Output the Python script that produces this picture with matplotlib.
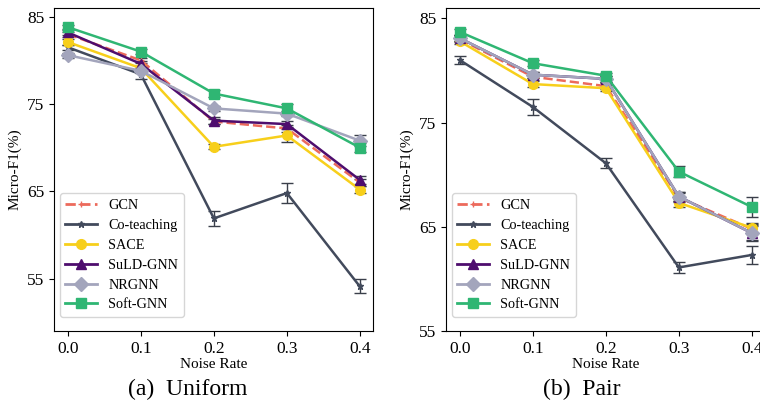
import numpy as np
import matplotlib.pyplot as plt
from matplotlib.lines import Line2D

plt.rcParams['font.family'] = ['Liberation Serif', 'DejaVu Serif']

noise = [0.0, 0.1, 0.2, 0.3, 0.4]
methods = ["GCN", "Co-teaching", "SACE", "SuLD-GNN", "NRGNN", "Soft-GNN"]

# Uniform noise
uni_gcn = [83.0, 80.0, 73.0, 72.2, 66.0]
uni_cot = [81.5, 78.4, 61.9, 64.8, 54.1]
uni_sace = [82.1, 79.1, 70.1, 71.4, 65.2]
uni_suld = [83.2, 79.6, 73.1, 72.7, 66.3]
uni_nrgnn = [80.6, 78.8, 74.5, 73.9, 70.8]
uni_soft = [83.8, 81.0, 76.2, 74.5, 70.0]

uni_gcn_err = [0.3, 0.3, 0.3, 0.4, 0.4]
uni_cot_err = [0.3, 0.5, 0.9, 1.1, 0.8]
uni_sace_err = [0.3, 0.3, 0.3, 0.7, 0.4]
uni_suld_err = [0.3, 0.3, 0.4, 0.3, 0.5]
uni_nrgnn_err = [0.3, 0.3, 0.3, 0.3, 0.6]
uni_soft_err = [0.2, 0.3, 0.4, 0.5, 0.5]

# Pair noise
pair_gcn = [83.0, 79.4, 78.5, 67.8, 64.8]
pair_cot = [81.0, 76.5, 71.1, 61.1, 62.3]
pair_sace = [82.8, 78.7, 78.3, 67.3, 64.9]
pair_suld = [83.1, 79.6, 79.2, 67.9, 64.4]
pair_nrgnn = [83.1, 79.6, 79.2, 67.9, 64.4]
pair_soft = [83.7, 80.7, 79.5, 70.3, 66.9]

pair_gcn_err = [0.3, 0.3, 0.3, 0.4, 0.5]
pair_cot_err = [0.4, 0.8, 0.5, 0.5, 0.9]
pair_sace_err = [0.3, 0.3, 0.3, 0.4, 0.5]
pair_suld_err = [0.3, 0.3, 0.3, 0.4, 0.7]
pair_nrgnn_err = [0.3, 0.3, 0.3, 0.4, 0.8]
pair_soft_err = [0.3, 0.3, 0.3, 0.5, 1.0]

colors = ["#ec6a5c", "#424a5c", "#f7cf1b", "#4e0d6e", "#a3a5bc", "#2fb673"]
markers = ["+", "*", "o", "^", "D", "s"]
msizes = [5, 5, 7, 7, 7, 7]
styles = ["--", "-", "-", "-", "-", "-"]

fig = plt.figure(figsize=(7.6, 4.03), dpi=100)
ax1 = fig.add_axes([54 / 760, 72 / 403, 319 / 760, 323 / 403])
ax2 = fig.add_axes([446 / 760, 72 / 403, 319 / 760, 323 / 403])

uni = [uni_gcn, uni_cot, uni_sace, uni_suld, uni_nrgnn, uni_soft]
uni_err = [uni_gcn_err, uni_cot_err, uni_sace_err, uni_suld_err, uni_nrgnn_err, uni_soft_err]
pair = [pair_gcn, pair_cot, pair_sace, pair_suld, pair_nrgnn, pair_soft]
pair_err = [pair_gcn_err, pair_cot_err, pair_sace_err, pair_suld_err, pair_nrgnn_err, pair_soft_err]

handles = [Line2D([], [], color=colors[i], linestyle=styles[i], linewidth=2,
                  marker=markers[i], markersize=msizes[i], label=methods[i])
           for i in range(len(methods))]

for ax, vals, errs in [(ax1, uni, uni_err), (ax2, pair, pair_err)]:
    for i in range(len(methods)):
        ax.errorbar(noise, vals[i], yerr=errs[i], color=colors[i], ecolor="#3a3f4a",
                    elinewidth=1, capsize=4.5, linestyle=styles[i], linewidth=1.8,
                    marker=markers[i], markersize=msizes[i])
    ax.set_xticks(noise)
    ax.set_xticklabels(["0.0", "0.1", "0.2", "0.3", "0.4"])
    ax.set_yticks([55, 65, 75, 85])
    ax.set_xlim(-0.019, 0.418)
    ax.set_xlabel("Noise Rate", fontsize=11, labelpad=1)
    ax.set_ylabel("Micro-F1(%)", fontsize=11)
    ax.tick_params(labelsize=12.5)
    ax.legend(handles=handles, loc="lower left", bbox_to_anchor=(0.0, 0.025),
              fontsize=10.3, frameon=True, handlelength=2.2, handletextpad=0.8,
              labelspacing=0.48, borderaxespad=0.4)

ax1.set_ylim(49, 86)
ax2.set_ylim(55, 86)

fig.text(188 / 760, 1 - 389 / 403, "(a)  Uniform", ha="center", va="center", fontsize=17)
fig.text(582 / 760, 1 - 389 / 403, "(b)  Pair", ha="center", va="center", fontsize=17)

fig.savefig("out.png", dpi=100)
